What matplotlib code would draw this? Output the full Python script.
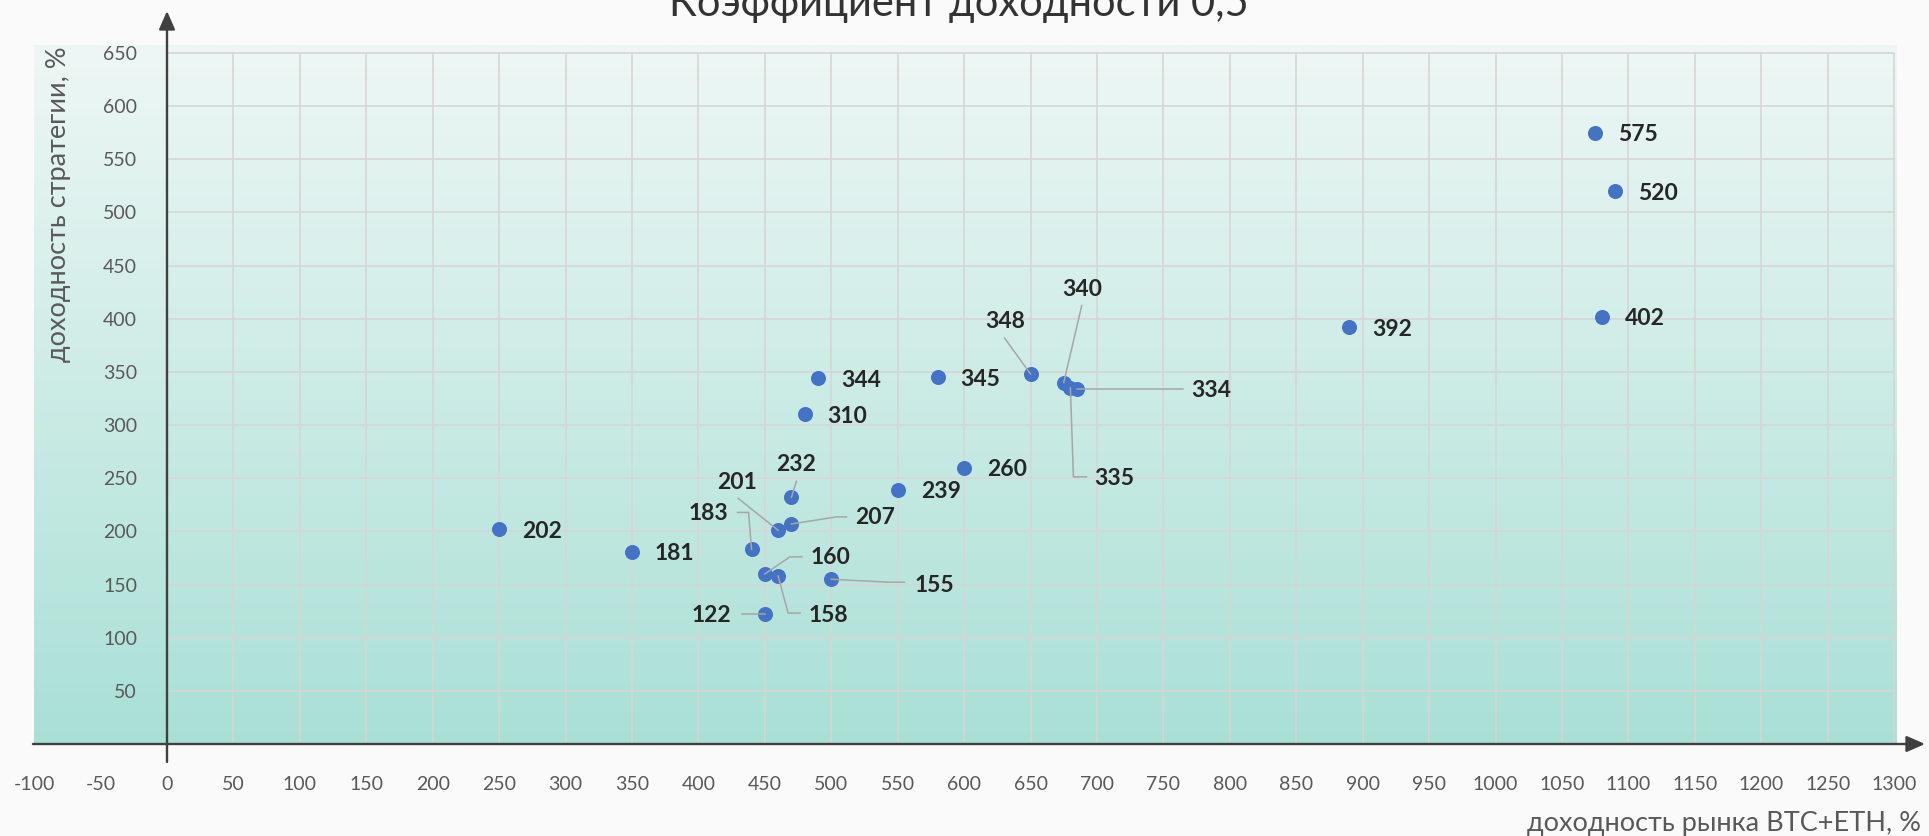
import numpy as np
import matplotlib
matplotlib.use('Agg')
import matplotlib.pyplot as plt
from matplotlib.colors import LinearSegmentedColormap

plt.rcParams['font.family'] = ['Lato', 'DejaVu Sans']
plt.rcParams['axes.unicode_minus'] = False

# data: market return (x) vs strategy return (y), %
market = [250, 350, 440, 450, 450, 460, 460, 470, 470, 480, 490, 500,
          550, 580, 600, 650, 675, 680, 685, 890, 1075, 1080, 1090]
strategy = [202, 181, 183, 160, 122, 201, 158, 232, 207, 310, 344, 155,
            239, 345, 260, 348, 340, 335, 334, 392, 575, 402, 520]

x_ticks = list(range(-100, 1301, 50))
y_ticks = list(range(50, 651, 50))

title = 'Коэффициент доходности 0,5'
x_title = 'доходность рынка BTC+ETH, %'
y_title = 'доходность стратегии, %'

# label placement for crowded points: text centre offset and leader path (pixels, y down)
leaders = {
    183: ((-43, -36), [(-14, -37), (-3, -37), (0, 0)]),
    160: ((66, -16), [(37, -17), (25, -17), (0, 0)]),
    122: ((-53, 1), [(-23, 0), (0, 0)]),
    201: ((-41, -48), [(-40, -32), (0, 0)]),
    158: ((50, 39), [(22, 37), (10, 37), (0, 0)]),
    232: ((5, -33), [(5, -16), (0, 0)]),
    207: ((84, -6), [(55, -7), (45, -7), (0, 0)]),
    155: ((103, 6), [(73, 3), (58, 3), (0, 0)]),
    348: ((-25, -53), [(-26, -36), (0, 0)]),
    340: ((18, -93), [(18, -77), (0, 0)]),
    335: ((44, 91), [(16, 89), (3, 89), (0, 0)]),
    334: ((134, 2), [(106, 0), (0, 0)]),
}

W, H = 1929, 836
fig = plt.figure(figsize=(W / 100, H / 100), dpi=100, facecolor='#fafafa')
ax = fig.add_axes([34.15 / W, 92 / H, (1897 - 34.15) / W, (791 - 92) / H])
xlim = (-100, 1302.2)
ylim = (0, 657.5)
ax.set_xlim(*xlim)
ax.set_ylim(*ylim)

cmap = LinearSegmentedColormap.from_list('bg', ['#a9e0d6', '#eef7f5'])
ax.imshow(np.linspace(0, 1, 256).reshape(-1, 1), extent=[*xlim, *ylim],
          aspect='auto', cmap=cmap, origin='lower', zorder=0)

ax.vlines(x_ticks[2:], 0, 650, color='#d6d6d6', lw=1.2, zorder=1)
ax.hlines(y_ticks, 0, 1300, color='#d6d6d6', lw=1.2, zorder=1)

for s in ['top', 'right', 'bottom']:
    ax.spines[s].set_visible(False)
ax.spines['left'].set_position(('data', 0))
ax.spines['left'].set_color('none')

ax.set_xticks(x_ticks)
ax.set_xticklabels([str(v) for v in x_ticks])
ax.set_yticks(y_ticks)
ax.tick_params(length=0, labelsize=14, labelcolor='#595959')
ax.tick_params(axis='x', pad=23)
ax.tick_params(axis='y', pad=21.5)

# axis arrows
arrow = dict(arrowstyle='-|>,head_length=0.8,head_width=0.35', color='#404040',
             lw=1.7, shrinkA=0, shrinkB=0, mutation_scale=14)
ax.annotate('', xy=(1323.3, 0), xytext=(-100.9, 0), arrowprops=arrow,
            annotation_clip=False, zorder=5)
ax.annotate('', xy=(0, 689.5), xytext=(0, -16.9), arrowprops=arrow,
            annotation_clip=False, zorder=5)

ax.scatter(market, strategy, s=117, color='#4472c4', zorder=4, linewidths=0)

fig.canvas.draw()
to_disp = ax.transData.transform
to_data = ax.transData.inverted().transform

for xv, yv in zip(market, strategy):
    if yv in leaders:
        (tx, ty), path = leaders[yv]
        X, Y = to_disp((xv, yv))
        pts = np.array([to_data((X + dx, Y - dy)) for dx, dy in path])
        ax.plot(pts[:, 0], pts[:, 1], color='#a6a6a6', lw=1.1, zorder=6)
        ax.annotate(str(yv), (xv, yv), xytext=(tx, -ty), textcoords='offset pixels',
                    ha='center', va='center', fontsize=16.5, fontweight='bold',
                    color='#262626', zorder=7)
    else:
        ax.annotate(str(yv), (xv, yv), xytext=(23, -2), textcoords='offset pixels',
                    ha='left', va='center', fontsize=16.5, fontweight='bold',
                    color='#262626', zorder=7)

fig.text(959 / W, 1 - 16 / H, title, ha='center', va='baseline',
         fontsize=30, color='#333333')
fig.text(59 / W, 1 - 46 / H, y_title, rotation=90, ha='center', va='top',
         fontsize=19.5, color='#595959')
fig.text(1921 / W, 1 - 824 / H, x_title, ha='right', va='center',
         fontsize=19.5, color='#595959')

fig.savefig('out.png', dpi=100, facecolor=fig.get_facecolor())
